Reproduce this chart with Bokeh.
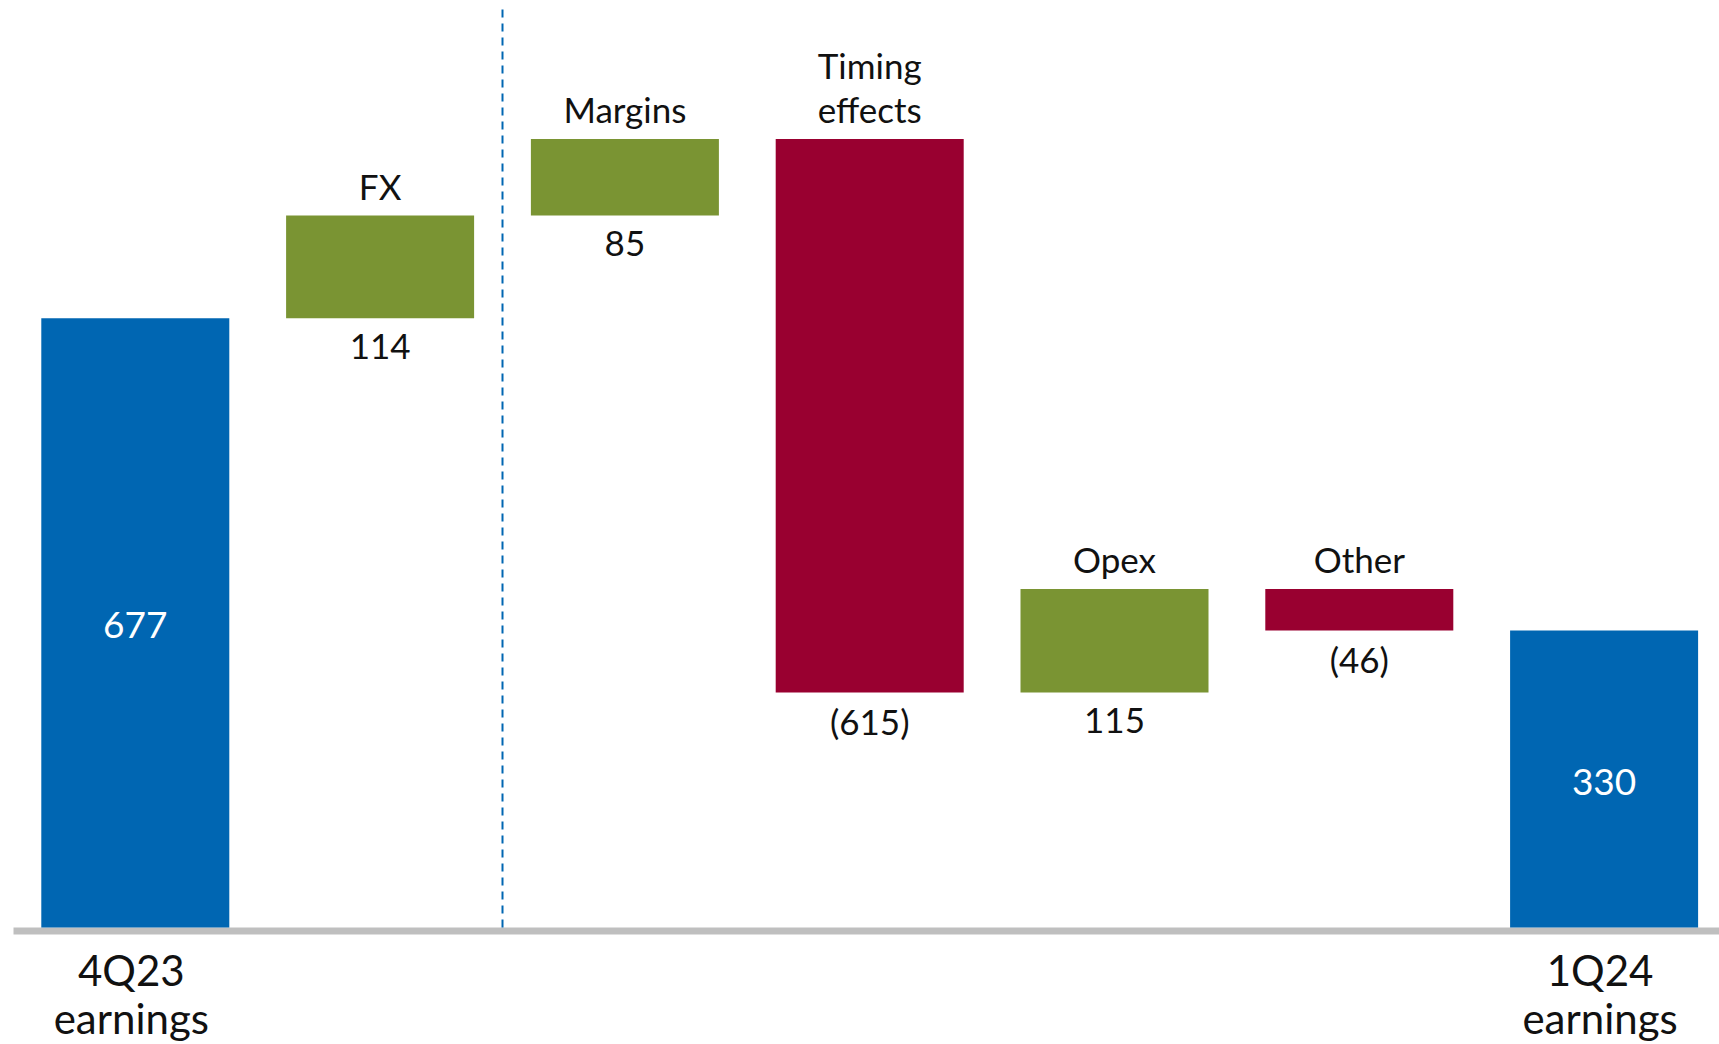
from bokeh.plotting import figure
from bokeh.models import ColumnDataSource
from bokeh.core.properties import value
from bokeh.embed import file_html
from bokeh.resources import INLINE

# ---- data ----
categories = ["4Q23\nearnings", "FX", "Margins", "Timing\neffects", "Opex", "Other", "1Q24\nearnings"]
values = [677, 114, 85, -615, 115, -46, 330]
kinds = ["total", "delta", "delta", "delta", "delta", "delta", "total"]
value_labels = ["677", "114", "85", "(615)", "115", "(46)", "330"]

# ---- styles ----
BLUE = "#0066B2"
GREEN = "#7A9433"
RED = "#990030"
GRAY = "#BFBFBF"
FONT = value("Lato")
TXT = "#111111"

W, H = 1719, 1044
PXX = 244.8                     # pixels per category
X_START = -134.8 / PXX
X_END = X_START + W / PXX
Y_END = 927 / 0.9
Y_START = Y_END - H / 0.9
PX = H / (Y_END - Y_START)      # pixels per value unit

# ---- waterfall geometry ----
xs, bottoms, tops, colors = [], [], [], []
running = 0
for i, (v, k) in enumerate(zip(values, kinds)):
    if k == "total":
        b, t = 0, v
        running = v
        c = BLUE
    else:
        s, e = running, running + v
        b, t = min(s, e), max(s, e)
        running = e
        c = GREEN if v > 0 else RED
    xs.append(i)
    bottoms.append(b)
    tops.append(t)
    colors.append(c)

bars = ColumnDataSource(dict(x=xs, bottom=bottoms, top=tops, color=colors))

p = figure(width=W, height=H, x_range=(X_START, X_END), y_range=(Y_START, Y_END),
           output_backend="svg", toolbar_location=None, min_border=0,
           x_axis_type=None, y_axis_type=None, outline_line_color=None,
           background_fill_color="white", border_fill_color="white")
p.xgrid.visible = False
p.ygrid.visible = False

# baseline
p.segment(x0=[X_START + 13 / PXX], y0=[-3.5 / PX], x1=[X_END], y1=[-3.5 / PX],
          line_color=GRAY, line_width=7)

# divider between FX and Margins
p.segment(x0=[1.5], y0=[0], x1=[1.5], y1=[Y_END - 9 / PX], line_color=BLUE,
          line_width=2, line_dash="8 6")

p.vbar(x="x", width=0.768, bottom="bottom", top="top", fill_color="color",
       line_color=None, source=bars)

# ---- labels ----
up_x, up_y, up_t, up_off = [], [], [], []
dn_x, dn_y, dn_t, dn_off = [], [], [], []
cat_x, cat_y, cat_t, cat_off = [], [], [], []
in_x, in_y, in_t = [], [], []
for i, k in enumerate(kinds):
    lines = categories[i].split("\n")
    if k == "delta":
        for j, line in enumerate(reversed(lines)):
            up_x.append(i); up_y.append(tops[i]); up_t.append(line); up_off.append(-30 - 44 * j)
        dn_x.append(i); dn_y.append(bottoms[i]); dn_t.append(value_labels[i]); dn_off.append(28)
    else:
        for j, line in enumerate(lines):
            cat_x.append(i); cat_y.append(0); cat_t.append(line); cat_off.append(42 + 48 * j)
        in_x.append(i); in_y.append((bottoms[i] + tops[i]) / 2); in_t.append(value_labels[i])

p.text(x="x", y="y", text="t", y_offset="o",
       source=ColumnDataSource(dict(x=up_x, y=up_y, t=up_t, o=up_off)),
       text_font=FONT, text_font_size="35px", text_color=TXT,
       text_align="center", text_baseline="middle")
p.text(x="x", y="y", text="t", y_offset="o",
       source=ColumnDataSource(dict(x=dn_x, y=dn_y, t=dn_t, o=dn_off)),
       text_font=FONT, text_font_size="35px", text_color=TXT,
       text_align="center", text_baseline="middle")
p.text(x="x", y="y", text="t", y_offset="o", x_offset=-4,
       source=ColumnDataSource(dict(x=cat_x, y=cat_y, t=cat_t, o=cat_off)),
       text_font=FONT, text_font_size="42px", text_color=TXT,
       text_align="center", text_baseline="middle")
p.text(x="x", y="y", text="t", y_offset=2.5,
       source=ColumnDataSource(dict(x=in_x, y=in_y, t=in_t)),
       text_font=FONT, text_font_size="37px", text_color="white",
       text_align="center", text_baseline="middle")

open("out.html", "w").write(file_html(p, INLINE))
